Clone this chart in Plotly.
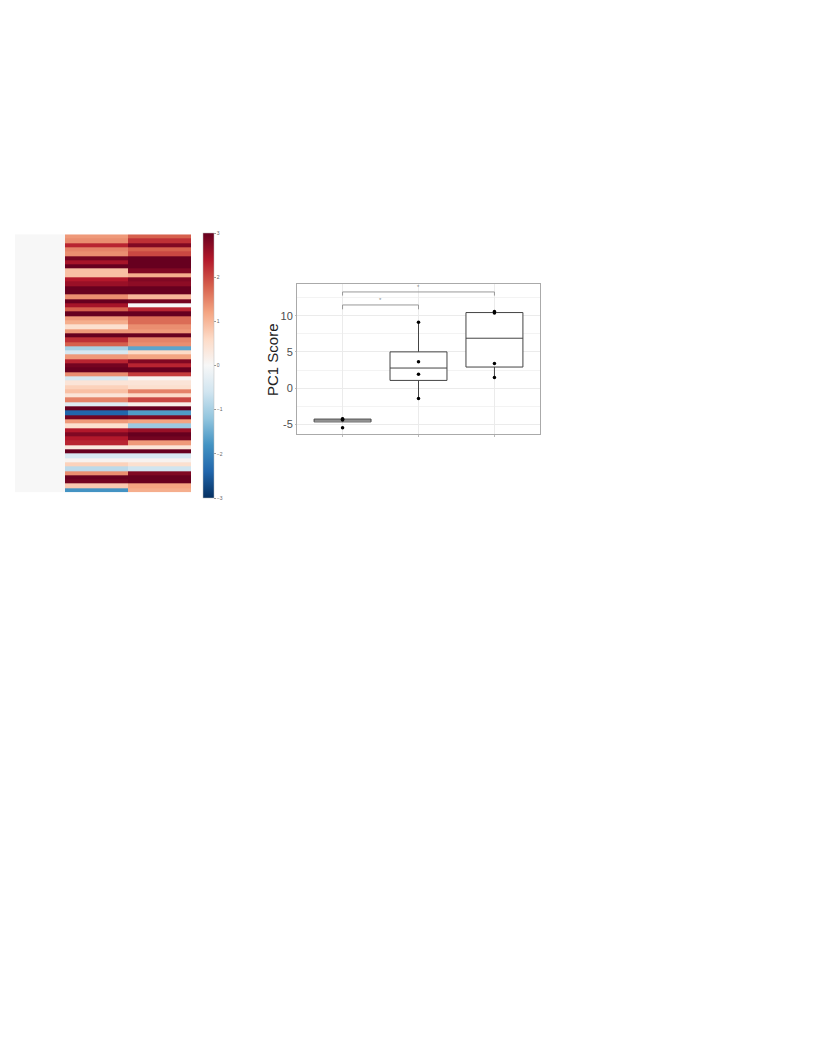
import numpy as np
import plotly.graph_objects as go

# ---------------- data ----------------
heat_col_edges = [0, 0.8, 1.8, 2.8]
heat_ref = [0.0] * 60
heat_b = [1.3, 1.4, 2.3, 1.5, 1.4, 2.9, 2.5, 3.0, 0.9, 0.9, 2.4, 2.6, 3.0, 3.0, 1.4,
          3.0, 2.5, 1.8, 3.0, 1.3, 1.1, 0.5, 1.3, 3.0, 2.2, 1.8, -1.0, -0.5, 1.3, 2.3,
          2.9, 3.0, 1.4, -0.5, 0.4, 0.7, 0.9, 0.4, 1.5, -0.4, 3.0, -2.4, 2.9, 1.3, 0.5,
          2.4, 2.8, 2.4, 2.3, 0.3, 3.0, -0.5, 0.1, 0.7, -0.8, 1.4, 3.0, 2.9, 0.8, -1.8]
heat_c = [1.8, 2.2, 2.8, 1.8, 2.0, 3.0, 3.0, 3.0, 2.8, 1.1, 2.8, 2.7, 3.0, 3.0, 1.0,
          2.9, 0.0, 2.3, 3.0, 1.7, 1.7, 1.4, 1.3, 3.0, 1.5, 1.4, -1.6, 0.6, 1.2, 2.8,
          2.3, 3.0, 2.1, 0.1, 0.4, 0.5, 1.5, 0.6, 2.0, 0.2, 3.0, -1.7, 2.8, 1.2, -1.1,
          2.6, 3.0, 2.9, 1.3, 0.4, 3.0, -0.5, 0.1, 0.5, -0.6, 2.8, 3.0, 3.0, 1.2, 1.1]
cbar_ticks = [-3, -2, -1, 0, 1, 2, 3]

groups = [1, 2, 3]
pc1_g1 = [-5.5, -4.4, -4.3, -4.25]
pc1_g2 = [-1.45, 1.9, 3.65, 9.1]
pc1_g3 = [1.45, 3.4, 10.4, 10.6]
y_ticks = [-5, 0, 5, 10]
y_tick_labels = ['-5', '0', '5', '10']
y_minor = [-2.5, 2.5, 7.5, 12.5]
y_title = 'PC1 Score'

brackets = [
    dict(x=[1, 1, 2, 2], y=[10.9, 11.5, 11.5, 10.9], label='*', lx=1.5, ly=11.5),
    dict(x=[1, 1, 3, 3], y=[12.8, 13.3, 13.3, 12.8], label='*', lx=2.0, ly=13.3),
]

rdbu_r = [
    [0.0, '#053061'], [0.1, '#2166ac'], [0.2, '#4393c3'], [0.3, '#92c5de'],
    [0.4, '#d1e5f0'], [0.5, '#f7f7f7'], [0.6, '#fddbc7'], [0.7, '#f4a582'],
    [0.8, '#d6604d'], [0.9, '#b2182b'], [1.0, '#67001f'],
]

W, H = 816, 1056


def px(x):
    return x / W


def py(y):
    return 1 - y / H


fig = go.Figure()

# ---------------- heatmap ----------------
z = [list(r) for r in zip(heat_ref, heat_b, heat_c)]
rows = list(range(1, len(z) + 1))
fig.add_trace(go.Heatmap(
    z=z, x=heat_col_edges, y=rows, zmin=-3, zmax=3, colorscale=rdbu_r,
    xaxis='x', yaxis='y',
    colorbar=dict(
        x=px(203), xanchor='left', y=py(365.5), yanchor='middle',
        thickness=11, len=265, lenmode='pixels',
        tickvals=cbar_ticks, ticks='outside', ticklen=2, tickwidth=0.5,
        tickcolor='#999', tickfont=dict(size=5, color='#666'),
        outlinewidth=0.5, outlinecolor='#bbb', xpad=0, ypad=0,
    ),
))

# ---------------- box plot ----------------
for g, vals in zip(groups, [pc1_g1, pc1_g2, pc1_g3]):
    v = np.array(vals)
    q1, med, q3 = np.percentile(v, [25, 50, 75])
    iqr = q3 - q1
    lo = v[v >= q1 - 1.5 * iqr].min()
    hi = v[v <= q3 + 1.5 * iqr].max()
    lo = min(lo, q1)
    hi = max(hi, q3)
    fig.add_trace(go.Box(
        x=[g], q1=[q1], median=[med], q3=[q3], lowerfence=[lo], upperfence=[hi],
        width=0.75, whiskerwidth=0, fillcolor='white', line=dict(color='#444', width=1),
        boxpoints=False, xaxis='x2', yaxis='y2', showlegend=False,
    ))
    fig.add_trace(go.Scatter(
        x=[g] * len(vals), y=vals, mode='markers',
        marker=dict(color='black', size=3.5), xaxis='x2', yaxis='y2', showlegend=False,
    ))

for b in brackets:
    fig.add_trace(go.Scatter(
        x=b['x'], y=b['y'], mode='lines', line=dict(color='#999', width=1),
        xaxis='x2', yaxis='y2', showlegend=False,
    ))
    fig.add_annotation(x=b['lx'], y=b['ly'], xref='x2', yref='y2', text=b['label'],
                       showarrow=False, yanchor='bottom', yshift=0,
                       font=dict(size=6, color='#888'))

fig.add_annotation(x=px(273), y=py(360), xref='paper', yref='paper', text=y_title,
                   textangle=-90, showarrow=False, xanchor='center', yanchor='middle',
                   font=dict(size=15, color='#222'))

fig.update_layout(
    template='none',
    width=W, height=H, margin=dict(l=0, r=0, t=0, b=0),
    paper_bgcolor='white', plot_bgcolor='white', showlegend=False,
    font=dict(family='Liberation Sans, Arial, sans-serif', color='#4d4d4d'),
    xaxis=dict(domain=[px(15), px(191)], range=[0, 2.8], showgrid=False,
               zeroline=False, showticklabels=False, ticks='', showline=False),
    yaxis=dict(domain=[py(492.3), py(234.3)], autorange='reversed', showgrid=False,
               zeroline=False, showticklabels=False, ticks='', showline=False),
    xaxis2=dict(domain=[px(297), px(540)], anchor='y2', range=[0.4, 3.6],
                tickvals=groups, ticktext=['', '', ''], showgrid=True,
                gridcolor='#ebebeb', gridwidth=1, zeroline=False,
                ticks='outside', ticklen=2, tickcolor='#bbb',
                showline=True, linecolor='#aaa', linewidth=1, mirror=True),
    yaxis2=dict(domain=[py(434), py(284)], anchor='x2', range=[-6.35, 14.4],
                tickvals=y_ticks, ticktext=y_tick_labels, showgrid=True,
                gridcolor='#ebebeb', gridwidth=1, zeroline=False,
                minor=dict(tickvals=y_minor, showgrid=True, gridcolor='#f3f3f3',
                           gridwidth=0.6, ticks=''),
                ticks='outside', ticklen=1, tickcolor='#bbb',
                tickfont=dict(size=11, color='#4d4d4d'),
                showline=True, linecolor='#aaa', linewidth=1, mirror=True),
)

fig.write_html('out.html')
